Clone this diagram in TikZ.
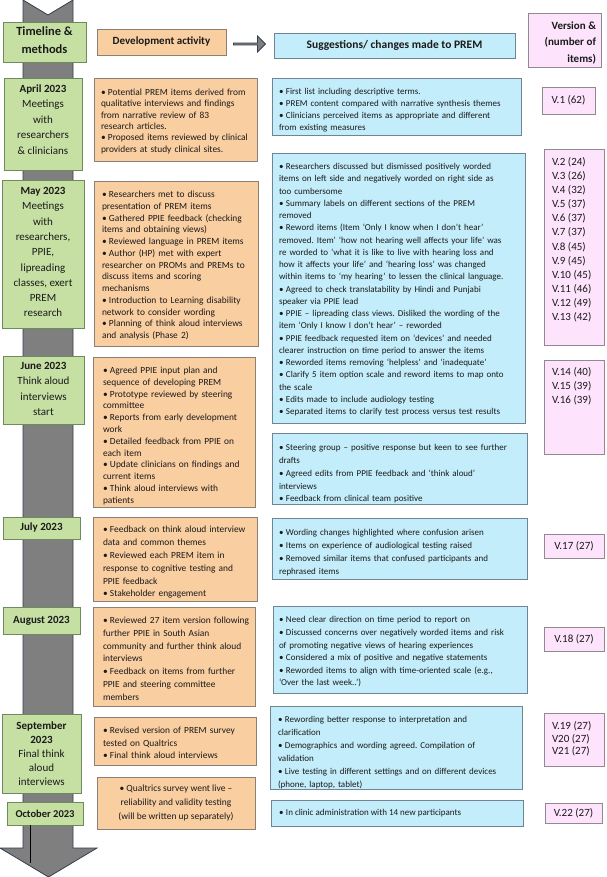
\documentclass[tikz,border=0pt]{standalone}
\usepackage{fontspec}
\setmainfont{Carlito}
\frenchspacing
\usetikzlibrary{shapes.arrows}
\definecolor{gfill}{HTML}{C6E0A4}
\definecolor{gline}{HTML}{6E8B5E}
\definecolor{ofill}{HTML}{F9CEA1}
\definecolor{oline}{HTML}{8C7F73}
\definecolor{bfill}{HTML}{C3EDFA}
\definecolor{bline}{HTML}{6F8592}
\definecolor{pfill}{HTML}{FDE3FB}
\definecolor{pline}{HTML}{8E8A90}
\definecolor{afill}{HTML}{7F7F7F}
\definecolor{aline}{HTML}{333F50}
\definecolor{txt}{HTML}{1A1A1A}
\newcommand{\bi}{\par\hangindent=7pt\hangafter=1\noindent\strut\makebox[7pt][l]{\textbullet}}
\newcommand{\boxat}[7]{%
  \node[#1, minimum width={(#5-#3)*1pt}, minimum height={(#6-#4)*1pt}] (#2) at ({(#3+#5)/2},{(#4+#6)/2}) {#7};}
\tikzset{
  base/.style={draw, line width=0.8pt, inner sep=0pt, outer sep=0pt, rectangle, text=txt, font=\fontsize{11}{13}\selectfont},
  gbox/.style={base, fill=gfill, draw=gline},
  obox/.style={base, fill=ofill, draw=oline},
  bbox/.style={base, fill=bfill, draw=bline},
  pbox/.style={base, fill=pfill, draw=pline},
  tx/.style={inner sep=0pt, outer sep=0pt, text=txt},
  gtx/.style={tx, anchor=north, align=center},
  otx/.style={tx, anchor=north west, align=left, text width=160pt},
  btx/.style={tx, anchor=north west, align=left, text width=250pt},
  ptx/.style={tx, anchor=north west, align=left},
}
\begin{document}
\begin{tikzpicture}[x=1pt,y=-1pt]
\useasboundingbox (0,0) rectangle (606,877);
% timeline arrow
\filldraw[fill=afill, draw=aline, line width=0.8pt] (23,0) -- (48,15) -- (73,0) -- (73,848) -- (97,848) -- (48.5,877) -- (0,848) -- (23,848) -- cycle;
\draw[line width=0.5pt] (28,268) -- (32,268) (30,268) -- (30,283);
% header
\boxat{gbox}{hTime}{3}{22}{86}{62}{}
\node[gtx, font=\bfseries\fontsize{12.5}{18}\selectfont] (hTimeT) at (44.5,23.4) {\strut Timeline \&\\methods};
\boxat{obox}{hDev}{97}{29}{226}{55}{\bfseries Development activity}
\node[single arrow, draw=aline, fill=afill, line width=0.8pt, minimum height=32pt, minimum width=16pt, single arrow head extend=3pt, inner sep=0pt] (hArr) at (249,44) {};
\boxat{bbox}{hSug}{274}{33}{515}{58}{\bfseries\fontsize{11.5}{13}\selectfont Suggestions/ changes made to PREM}
\boxat{pbox}{hVer}{528}{13}{601}{67}{}
\node[tx, anchor=north east, align=right, font=\bfseries\fontsize{11}{16.5}\selectfont] (hVerT) at (596,17.5) {\strut Version \&\\(number of\\items)};
% April
\boxat{gbox}{aG}{4}{78}{82}{170}{}
\node[gtx, font=\fontsize{11}{15.4}\selectfont] (aGT) at (43,81.7) {\strut\textbf{April 2023}\\Meetings\\with\\researchers\\\& clinicians};
\boxat{obox}{aO}{94}{78}{257}{161}{}
\node[otx, font=\fontsize{9.4}{11.4}\selectfont] (aOT) at (101,84) {\bi Potential PREM items derived from\\qualitative interviews and findings\\from narrative review of 83\\research articles.\bi Proposed items reviewed by clinical\\providers at study clinical sites.};
\boxat{bbox}{aB}{272}{78}{521}{135}{}
\node[btx, font=\fontsize{9}{12}\selectfont] (aBT) at (279,82.6) {\bi First list including descriptive terms.\bi PREM content compared with narrative synthesis themes\bi Clinicians perceived items as appropriate and different\\from existing measures};
\boxat{pbox}{aP}{542}{87}{595}{114}{V.1 (62)}
% May
\boxat{gbox}{mG}{2}{180}{84}{328}{}
\node[gtx, font=\fontsize{11}{15.3}\selectfont] (mGT) at (43,183.8) {\strut\textbf{May 2023}\\Meetings\\with\\researchers,\\PPIE,\\lipreading\\classes, exert\\PREM\\research};
\boxat{obox}{mO}{94}{181}{258}{346}{}
\node[otx, font=\fontsize{9.4}{11.75}\selectfont] (mOT) at (102,185.8) {\bi Researchers met to discuss\\presentation of PREM items\bi Gathered PPIE feedback (checking\\items and obtaining views)\bi Reviewed language in PREM items\bi Author (HP) met with expert\\researcher on PROMs and PREMs to\\discuss items and scoring\\mechanisms\bi Introduction to Learning disability\\network to consider wording\bi Planning of think aloud interviews\\and analysis (Phase 2)};
\boxat{bbox}{mB}{272}{153}{525}{423}{}
\node[btx, font=\fontsize{9}{12.25}\selectfont] (mBT) at (279,157.4) {\bi Researchers discussed but dismissed positively worded\\items on left side and negatively worded on right side as\\too cumbersome\bi Summary labels on different sections of the PREM\\removed\bi Reword items (Item ‘Only I know when I don’t hear’\\removed. Item’ ‘how not hearing well affects your life’ was\\re worded to ‘what it is like to live with hearing loss and\\how it affects your life’ and ‘hearing loss’ was changed\\within items to ‘my hearing’ to lessen the clinical language.\bi Agreed to check translatability by Hindi and Punjabi\\speaker via PPIE lead\bi PPIE – lipreading class views. Disliked the wording of the\\item ‘Only I know I don’t hear’ – reworded\bi PPIE feedback requested item on ‘devices’ and needed\\clearer instruction on time period to answer the items\bi Reworded items removing ‘helpless’ and ‘inadequate’\bi Clarify 5 item option scale and reword items to map onto\\the scale\bi Edits made to include audiology testing\bi Separated items to clarify test process versus test results};
\boxat{pbox}{mP}{544}{149}{604}{345}{}
\node[ptx, font=\fontsize{11}{14.1}\selectfont] (mPT) at (552,155.6) {\strut V.2 (24)\\V.3 (26)\\V.4 (32)\\V.5 (37)\\V.6 (37)\\V.7 (37)\\V.8 (45)\\V.9 (45)\\V.10 (45)\\V.11 (46)\\V.12 (49)\\V.13 (42)};
% June
\boxat{gbox}{jG}{3}{356}{84}{424}{}
\node[gtx, font=\fontsize{11}{15.3}\selectfont] (jGT) at (43.5,358.8) {\strut\textbf{June 2023}\\Think aloud\\interviews\\start};
\boxat{obox}{jO}{93}{357}{255}{507}{}
\node[otx, font=\fontsize{9.4}{11.8}\selectfont] (jOT) at (103,361.7) {\bi Agreed PPIE input plan and\\sequence of developing PREM\bi Prototype reviewed by steering\\committee\bi Reports from early development\\work\bi Detailed feedback from PPIE on\\each item\bi Update clinicians on findings and\\current items\bi Think aloud interviews with\\patients};
\boxat{pbox}{jP}{544}{360}{604}{454}{}
\node[ptx, font=\fontsize{11}{14}\selectfont] (jPT) at (552,365.7) {\strut V.14 (40)\\V.15 (39)\\V.16 (39)};
\boxat{bbox}{jB}{272}{433}{527}{504}{}
\node[btx, font=\fontsize{9}{12.75}\selectfont] (jBT) at (279,438.1) {\bi Steering group – positive response but keen to see further\\drafts\bi Agreed edits from PPIE feedback and ‘think aloud’\\interviews\bi Feedback from clinical team positive};
% July
\boxat{gbox}{yG}{3}{517}{80}{539}{\bfseries July 2023}
\boxat{obox}{yO}{93}{517}{257}{601}{}
\node[otx, font=\fontsize{9.4}{12.8}\selectfont] (yOT) at (103,520) {\bi Feedback on think aloud interview\\data and common themes\bi Reviewed each PREM item in\\response to cognitive testing and\\PPIE feedback\bi Stakeholder engagement};
\boxat{bbox}{yB}{272}{518}{527}{579}{}
\node[btx, font=\fontsize{9}{13}\selectfont] (yBT) at (279,522.9) {\bi Wording changes highlighted where confusion arisen\bi Items on experience of audiological testing raised\bi Removed similar items that confused participants and\\rephrased items};
\boxat{pbox}{yP}{544}{534}{604}{558}{V.17 (27)}
% August
\boxat{gbox}{uG}{3}{607}{80}{634}{\bfseries August 2023}
\boxat{obox}{uO}{93}{607}{255}{706}{}
\node[otx, font=\fontsize{9.4}{12.7}\selectfont] (uOT) at (103,611.1) {\bi Reviewed 27 item version following\\further PPIE in South Asian\\community and further think aloud\\interviews\bi Feedback on items from further\\PPIE and steering committee\\members};
\boxat{bbox}{uB}{273}{606}{527}{693}{}
\node[btx, font=\fontsize{9}{12.6}\selectfont] (uBT) at (279,610.2) {\bi Need clear direction on time period to report on\bi Discussed concerns over negatively worded items and risk\\of promoting negative views of hearing experiences\bi Considered a mix of positive and negative statements\bi Reworded items to align with time-oriented scale (e.g.,\\‘Over the last week..’)};
\boxat{pbox}{uP}{544}{627}{604}{651}{V.18 (27)}
% September
\boxat{gbox}{sG}{2}{714}{81}{793}{}
\node[gtx, font=\fontsize{11}{14}\selectfont] (sGT) at (41.5,719.7) {\strut\textbf{September}\\\textbf{2023}\\Final think\\aloud\\interviews};
\boxat{obox}{sO}{94}{717}{256}{765}{}
\node[otx, font=\fontsize{9.4}{12.5}\selectfont] (sOT) at (103,721.25) {\bi Revised version of PREM survey\\tested on Qualtrics\bi Final think aloud interviews};
\boxat{bbox}{sB}{270}{706}{522}{789}{}
\node[btx, font=\fontsize{9}{13}\selectfont] (sBT) at (278,709.9) {\bi Rewording better response to interpretation and\\clarification\bi Demographics and wording agreed. Compilation of\\validation\bi Live testing in different settings and on different devices\\(phone, laptop, tablet)};
\boxat{pbox}{sP}{544}{713}{604}{766}{}
\node[ptx, font=\fontsize{11}{12.5}\selectfont] (sPT) at (552,720.75) {\strut V.19 (27)\\V20 (27)\\V21 (27)};
% October
\boxat{obox}{oO}{97}{777}{255}{829}{}
\node[gtx, font=\fontsize{9.5}{14}\selectfont] (oOT) at (176,781.7) {\strut\textbullet\ Qualtrics survey went live –\\reliability and validity testing\\(will be written up separately)};
\boxat{gbox}{oG}{7}{802}{83}{825}{\bfseries\fontsize{10.5}{13}\selectfont October 2023}
\boxat{bbox}{oB}{271}{800}{523}{826}{}
\node[tx, anchor=west, font=\fontsize{9}{12}\selectfont] (oBT) at (279,813) {\makebox[7pt][l]{\textbullet}In clinic administration with 14 new participants};
\boxat{pbox}{oP}{545}{803}{602}{823}{V.22 (27)}
\draw[line width=0.6pt] (oG.south -| 30,0) -- (30,863);
\end{tikzpicture}
\end{document}
